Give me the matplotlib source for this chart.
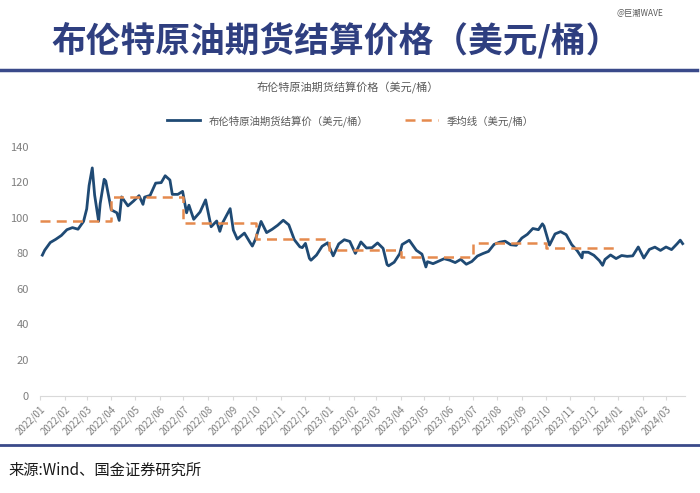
import numpy as np
import pandas as pd
from matplotlib import pyplot as plt
import matplotlib.dates as mdates

plt.rcParams['font.family'] = ['Noto Sans CJK SC', 'DejaVu Sans']

# Brent settlement price (USD/bbl)
dates = ['2022-01-04', '2022-01-07', '2022-01-14', '2022-01-21', '2022-01-28', '2022-02-04',
         '2022-02-11', '2022-02-18', '2022-02-25', '2022-03-01', '2022-03-04', '2022-03-08',
         '2022-03-11', '2022-03-16', '2022-03-18', '2022-03-23', '2022-03-25', '2022-04-01',
         '2022-04-08', '2022-04-11', '2022-04-14', '2022-04-22', '2022-04-29', '2022-05-06',
         '2022-05-11', '2022-05-13', '2022-05-20', '2022-05-27', '2022-06-03', '2022-06-08',
         '2022-06-14', '2022-06-17', '2022-06-24', '2022-06-30', '2022-07-05', '2022-07-08',
         '2022-07-14', '2022-07-22', '2022-07-29', '2022-08-05', '2022-08-12', '2022-08-16',
         '2022-08-19', '2022-08-29', '2022-09-02', '2022-09-07', '2022-09-16', '2022-09-23',
         '2022-09-26', '2022-09-30', '2022-10-07', '2022-10-14', '2022-10-21', '2022-10-28',
         '2022-11-04', '2022-11-11', '2022-11-18', '2022-11-25', '2022-11-28', '2022-12-02',
         '2022-12-07', '2022-12-09', '2022-12-16', '2022-12-23', '2022-12-30',
         '2023-01-06', '2023-01-13', '2023-01-20', '2023-01-27', '2023-02-03', '2023-02-10',
         '2023-02-17', '2023-02-24', '2023-03-03', '2023-03-10', '2023-03-15', '2023-03-17',
         '2023-03-24', '2023-03-31', '2023-04-03', '2023-04-12', '2023-04-21', '2023-04-28',
         '2023-05-03', '2023-05-05', '2023-05-12', '2023-05-19', '2023-05-26', '2023-06-02',
         '2023-06-09', '2023-06-16', '2023-06-23', '2023-06-30', '2023-07-07', '2023-07-14',
         '2023-07-21', '2023-07-28', '2023-08-04', '2023-08-11', '2023-08-18', '2023-08-25',
         '2023-09-01', '2023-09-08', '2023-09-15', '2023-09-22', '2023-09-27', '2023-09-29',
         '2023-10-06', '2023-10-13', '2023-10-20', '2023-10-27', '2023-11-03', '2023-11-10',
         '2023-11-16', '2023-11-17', '2023-11-24', '2023-12-01', '2023-12-08', '2023-12-12',
         '2023-12-15', '2023-12-22', '2023-12-29',
         '2024-01-05', '2024-01-12', '2024-01-19', '2024-01-26', '2024-02-02', '2024-02-09',
         '2024-02-16', '2024-02-23', '2024-03-01', '2024-03-08', '2024-03-15', '2024-03-19',
         '2024-03-22']
price = [78.98, 81.75, 86.06, 87.89, 90.03, 93.27,
         94.44, 93.54, 97.93, 104.97, 118.11, 127.98,
         112.67, 98.02, 107.93, 121.60, 120.65, 104.39,
         102.78, 98.48, 111.70, 106.65, 109.34, 112.39,
         107.51, 111.55, 112.55, 119.43, 119.72, 123.58,
         121.17, 113.12, 113.12, 114.81, 102.77, 107.02,
         99.10, 103.20, 110.01, 94.92, 98.15, 92.34,
         96.72, 105.09, 93.02, 88.00, 91.35, 86.15,
         84.06, 87.96, 97.92, 91.63, 93.50, 95.77,
         98.57, 95.99, 87.62, 83.63, 83.19, 85.57,
         77.17, 76.10, 79.04, 83.92, 85.91,
         78.57, 85.28, 87.63, 86.66, 79.94, 86.39,
         83.00, 83.16, 85.83, 82.78, 73.69, 72.97,
         74.99, 79.77, 84.93, 87.33, 81.66, 79.54,
         72.33, 75.30, 74.17, 75.58, 76.95, 76.13,
         74.79, 76.61, 73.85, 75.41, 78.47, 79.87,
         81.07, 84.99, 86.24, 86.81, 84.80, 84.48,
         88.55, 90.65, 93.93, 93.27, 96.55, 95.31,
         84.58, 90.89, 92.16, 90.48, 84.89, 81.43,
         77.42, 80.61, 80.58, 78.88, 75.84, 73.24,
         76.55, 79.07, 77.04,
         78.76, 78.29, 78.56, 83.55, 77.33, 82.19,
         83.47, 81.62, 83.55, 82.08, 85.34, 87.38,
         85.43]

# quarterly average
q_start = ['2022-01-01', '2022-04-01', '2022-07-01', '2022-10-01',
           '2023-01-01', '2023-04-01', '2023-07-01', '2023-10-01', '2024-01-01']
q_mean = [97.9, 111.9, 97.2, 88.3, 82.1, 77.7, 85.6, 82.8]

months = pd.date_range('2022-01-01', '2024-03-01', freq='MS')

fig = plt.figure(figsize=(7, 4.93), dpi=100)
ax = fig.add_axes([0.0571, 0.1974, 0.9215, 0.5054])

ax.plot(pd.to_datetime(dates), price, color='#1F4A74', linewidth=2.0,
        label='布伦特原油期货结算价（美元/桶）')
ax.plot(pd.to_datetime(q_start), q_mean + [q_mean[-1]], drawstyle='steps-post',
        color='#E58A4E', linewidth=1.8, linestyle=(0, (4, 2.5)),
        label='季均线（美元/桶）')

ax.set_ylim(0, 140)
ax.set_yticks(np.arange(0, 141, 20))
ax.set_xlim(pd.Timestamp('2022-01-01'), pd.Timestamp('2024-03-25'))
ax.set_xticks(months)
ax.xaxis.set_major_formatter(mdates.DateFormatter('%Y/%m'))
plt.setp(ax.get_xticklabels(), rotation=45, ha='right', rotation_mode='anchor')

for s in ['top', 'right', 'left']:
    ax.spines[s].set_visible(False)
ax.spines['bottom'].set_color('#D9D9D9')
ax.tick_params(axis='y', length=0, pad=8, labelsize=8, labelcolor='#7F7F7F')
ax.tick_params(axis='x', length=3, color='#D9D9D9', labelsize=7, labelcolor='#7F7F7F', pad=3)

fig.legend(loc='center', bbox_to_anchor=(0.5, 0.755), ncol=2, frameon=False,
           fontsize=7.5, labelcolor='#595959', handlelength=3.2, columnspacing=3.5)

# page decorations
fig.text(0.48, 0.918, '布伦特原油期货结算价格（美元/桶）', ha='center', va='center',
         fontsize=25, fontweight='bold', color='#2F3F80')
fig.text(0.497, 0.822, '布伦特原油期货结算价格（美元/桶）', ha='center', va='center',
         fontsize=8, color='#595959')
fig.text(0.914, 0.972, '@巨潮WAVE', ha='center', va='center', fontsize=6, color='#595959')
fig.add_artist(plt.Line2D([0, 0.995], [0.858, 0.858], color='#3A4A8A', linewidth=2.5))
fig.add_artist(plt.Line2D([0, 1.0], [0.098, 0.098], color='#3A4A8A', linewidth=2.0))
fig.text(0.012, 0.047, '来源:Wind、国金证券研究所', ha='left', va='center',
         fontsize=11, color='#1A1A1A')

plt.savefig('out.png', dpi=100)
